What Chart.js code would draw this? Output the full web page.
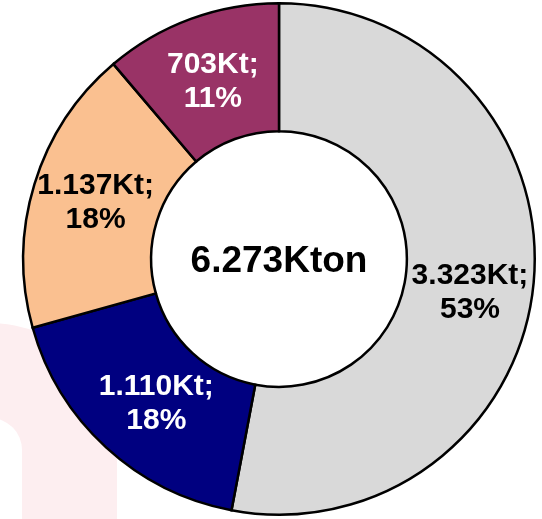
<!DOCTYPE html>
<html>
<head>
<meta charset="utf-8">
<script src="https://cdn.jsdelivr.net/npm/chart.js@4.4.1/dist/chart.umd.min.js"></script>
<style>
  html, body { margin: 0; padding: 0; background: #ffffff; overflow: hidden; }
  #wrap { position: relative; width: 542px; height: 519px; overflow: hidden; }
  #mark {
    position: absolute; left: -137px; top: 323px; width: 254px; height: 400px;
    box-sizing: border-box; border: 95px solid #fdeef0; border-bottom: none;
    border-radius: 127px 127px 0 0; z-index: 0;
  }
  #c { position: absolute; left: 0; top: 0; z-index: 1; }
</style>
</head>
<body>
<div id="wrap">
  <div id="mark"></div>
  <canvas id="c" width="542" height="519"></canvas>
</div>
<script>
// ---- data ----
const categories = ['Slice 1', 'Slice 2', 'Slice 3', 'Slice 4'];
const values = [3323, 1110, 1137, 703];
const valueLabels = ['3.323Kt;', '1.110Kt;', '1.137Kt;', '703Kt;'];
const percentLabels = ['53%', '18%', '18%', '11%'];
const centerLabel = '6.273Kton';

const colors = ['#d9d9d9', '#000080', '#fac090', '#993366'];
const textColors = ['#000000', '#ffffff', '#000000', '#ffffff'];

const FONT = '"Liberation Sans", Arial, Helvetica, sans-serif';

const labelPlugin = {
  id: 'sliceLabels',
  afterDatasetsDraw(chart, args, opts) {
    const ctx = chart.ctx;
    const meta = chart.getDatasetMeta(0);
    const nudge = opts.nudge || [];
    ctx.save();
    ctx.textAlign = 'center';
    ctx.textBaseline = 'alphabetic';
    const fs = 30, lh = 34, cap = fs * 0.716;
    ctx.font = 'bold ' + fs + 'px ' + FONT;
    meta.data.forEach((arc, i) => {
      const p = arc.getProps(['startAngle', 'endAngle', 'innerRadius', 'outerRadius', 'x', 'y'], true);
      const mid = (p.startAngle + p.endAngle) / 2;
      const r = (p.innerRadius + p.outerRadius) / 2;
      const n = nudge[i] || [0, 0];
      const x = p.x + Math.cos(mid) * r + n[0];
      const y = p.y + Math.sin(mid) * r + n[1];
      ctx.fillStyle = textColors[i];
      ctx.fillText(valueLabels[i], x, y - lh / 2 + cap / 2);
      ctx.fillText(percentLabels[i], x, y + lh / 2 + cap / 2);
    });
    // center text
    const a = meta.data[0];
    const cfs = 37;
    ctx.font = 'bold ' + cfs + 'px ' + FONT;
    ctx.fillStyle = '#000000';
    ctx.fillText(centerLabel, a.x, a.y + cfs * 0.716 / 2);
    ctx.restore();
  }
};

new Chart(document.getElementById('c'), {
  type: 'doughnut',
  data: {
    labels: categories,
    datasets: [{
      data: values,
      backgroundColor: colors,
      borderColor: '#000000',
      borderWidth: 2.5,
      borderJoinStyle: 'miter'
    }]
  },
  options: {
    responsive: false,
    animation: false,
    devicePixelRatio: 1,
    cutout: '50%',
    layout: { padding: { left: 16, right: 0, top: 2, bottom: 3 } },
    plugins: {
      legend: { display: false },
      tooltip: { enabled: false },
      sliceLabels: { nudge: [[0, 13], [7, 1], [0, -3], [0, 0]] }
    }
  },
  plugins: [labelPlugin]
});
</script>
</body>
</html>
